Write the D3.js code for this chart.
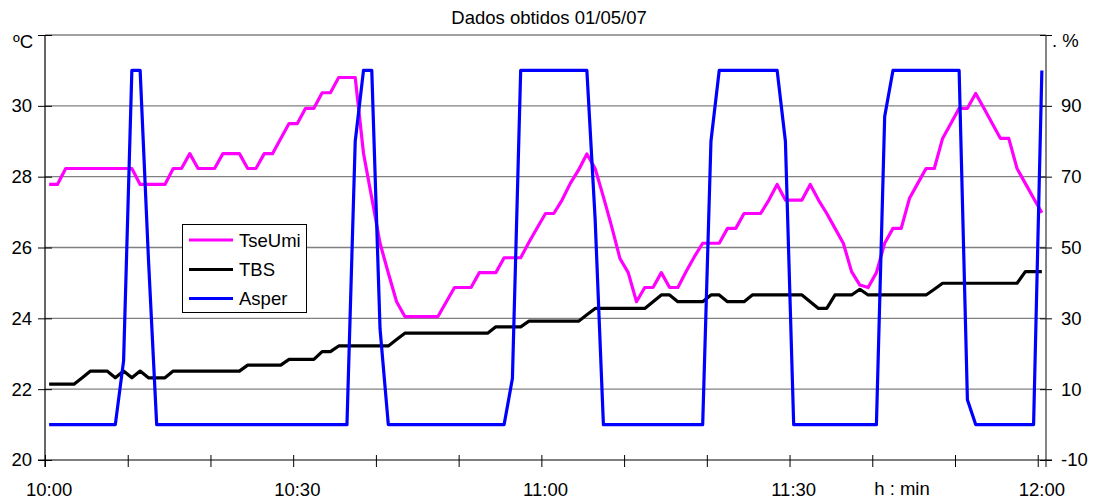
<!DOCTYPE html>
<html>
<head>
<meta charset="utf-8">
<script src="https://cdn.jsdelivr.net/npm/d3@7"></script>
<style>
  html, body { margin: 0; padding: 0; background: #fff; }
  svg { display: block; font-family: "Liberation Sans", Arial, sans-serif; }
</style>
</head>
<body>
<svg id="chart" width="1096" height="499"></svg>
<script>
// ---- data (1-minute samples, 10:00 .. 12:00) ----
const minutes = d3.range(0, 121);
const timeLabels = ["10:00", "10:30", "11:00", "11:30", "12:00"];
const timeLabelIdx = [0, 30, 60, 90, 120];
const leftTicks = [20, 22, 24, 26, 28, 30, 32];
const rightTicks = [-10, 10, 30, 50, 70, 90, 110];

const tseUmi = [
  27.78,27.78,28.23,28.23,28.23,28.23,28.23,28.23,28.23,28.23,
  28.23,27.78,27.78,27.78,27.78,28.23,28.23,28.65,28.23,28.23,
  28.23,28.65,28.65,28.65,28.23,28.23,28.65,28.65,29.08,29.50,
  29.50,29.93,29.93,30.37,30.37,30.80,30.80,30.80,28.66,27.40,
  26.12,25.28,24.47,24.05,24.05,24.05,24.05,24.05,24.46,24.87,
  24.87,24.87,25.29,25.29,25.29,25.71,25.71,25.71,26.15,26.56,
  26.96,26.96,27.34,27.81,28.19,28.64,28.23,27.43,26.59,25.69,
  25.29,24.47,24.87,24.87,25.29,24.87,24.87,25.32,25.74,26.12,
  26.12,26.12,26.54,26.54,26.96,26.96,26.96,27.34,27.78,27.34,
  27.34,27.34,27.78,27.34,26.96,26.54,26.12,25.32,24.94,24.87,
  25.29,26.12,26.54,26.54,27.39,27.81,28.23,28.23,29.08,29.50,
  29.93,29.93,30.35,29.93,29.50,29.08,29.08,28.23,27.81,27.39,
  26.98
];
const tbs = [
  22.14,22.14,22.14,22.14,22.32,22.51,22.51,22.51,22.32,22.51,
  22.32,22.51,22.32,22.32,22.32,22.51,22.51,22.51,22.51,22.51,
  22.51,22.51,22.51,22.51,22.68,22.68,22.68,22.68,22.68,22.84,
  22.84,22.84,22.84,23.06,23.06,23.22,23.22,23.22,23.22,23.22,
  23.22,23.22,23.40,23.58,23.58,23.58,23.58,23.58,23.58,23.58,
  23.58,23.58,23.58,23.58,23.76,23.76,23.76,23.76,23.92,23.92,
  23.92,23.92,23.92,23.92,23.92,24.10,24.28,24.28,24.28,24.28,
  24.28,24.28,24.28,24.47,24.66,24.66,24.47,24.47,24.47,24.47,
  24.66,24.66,24.47,24.47,24.47,24.66,24.66,24.66,24.66,24.66,
  24.66,24.66,24.47,24.28,24.28,24.66,24.66,24.66,24.82,24.66,
  24.66,24.66,24.66,24.66,24.66,24.66,24.66,24.82,24.99,24.99,
  24.99,24.99,24.99,24.99,24.99,24.99,24.99,24.99,25.32,25.32,
  25.32
];
const asper = [
  0,0,0,0,0,0,0,0,0,18,
  100,100,47,0,0,0,0,0,0,0,
  0,0,0,0,0,0,0,0,0,0,
  0,0,0,0,0,0,0,80,100,100,
  27,0,0,0,0,0,0,0,0,0,
  0,0,0,0,0,0,13,100,100,100,
  100,100,100,100,100,100,58,0,0,0,
  0,0,0,0,0,0,0,0,0,0,
  80,100,100,100,100,100,100,100,100,80,
  0,0,0,0,0,0,0,0,0,0,
  0,87,100,100,100,100,100,100,100,100,
  100,7,0,0,0,0,0,0,0,0,
  100
];

const seriesNames = ["TseUmi", "TBS", "Asper"];
const seriesColors = ["#FF00FF", "#000000", "#0000FF"];

// ---- layout ----
const svg = d3.select("#chart");
const L = 45, R = 1046, T = 35, B = 460;
const FONT = "18.5px";

const x = d3.scaleLinear().domain([-0.5, 120.5]).range([L, R]);
const yL = d3.scaleLinear().domain([20, 32]).range([B, T]);
const yR = d3.scaleLinear().domain([-10, 110]).range([B, T]);

svg.append("rect").attr("width", 1096).attr("height", 499).attr("fill", "#fff");

// gridlines
svg.append("g").selectAll("line")
  .data(leftTicks.filter(v => v > 20))
  .join("line")
  .attr("x1", L).attr("x2", R)
  .attr("y1", d => yL(d)).attr("y2", d => yL(d))
  .attr("stroke", "#808080").attr("stroke-width", 1.3);

// left axis
const gl = svg.append("g").attr("transform", `translate(${L},0)`)
  .call(d3.axisLeft(yL).tickValues(leftTicks).tickSize(7).tickSizeOuter(0).tickPadding(6)
        .tickFormat(d => d === 32 ? "" : d));
gl.select(".domain").remove();
gl.selectAll(".tick line").attr("x1", 7).attr("stroke", "#000");
gl.selectAll(".tick text").style("font-size", FONT).style("font-family", "Liberation Sans, Arial, sans-serif").attr("fill", "#000");
svg.append("line").attr("x1", L).attr("x2", L).attr("y1", T).attr("y2", B + 7).attr("stroke", "#000").attr("stroke-width", 1.2);

// right axis
const gr = svg.append("g").attr("transform", `translate(${R},0)`)
  .call(d3.axisRight(yR).tickValues(rightTicks).tickSize(6).tickSizeOuter(0).tickPadding(9)
        .tickFormat(d => d === 110 ? "" : d));
gr.select(".domain").remove();
gr.selectAll(".tick line").attr("x1", -6).attr("stroke", "#000");
gr.selectAll(".tick text").style("font-size", FONT).style("font-family", "Liberation Sans, Arial, sans-serif").attr("fill", "#000");
svg.append("line").attr("x1", R).attr("x2", R).attr("y1", T).attr("y2", B + 7).attr("stroke", "#333").attr("stroke-width", 1.2);

// bottom axis
const tickIdx = d3.range(0, 121, 10).map(i => i - 0.5);
const gb = svg.append("g").attr("transform", `translate(0,${B})`)
  .call(d3.axisBottom(x).tickValues(tickIdx).tickSize(7).tickSizeOuter(0).tickFormat(""));
gb.select(".domain").remove();
gb.selectAll(".tick line").attr("y1", -5).attr("stroke", "#000");
svg.append("line").attr("x1", L - 7).attr("x2", R + 6).attr("y1", B).attr("y2", B).attr("stroke", "#000").attr("stroke-width", 1.2);

svg.append("g").selectAll("text")
  .data(timeLabelIdx)
  .join("text")
  .attr("x", d => x(d)).attr("y", 496)
  .attr("text-anchor", "middle")
  .style("font-size", FONT)
  .text((d, i) => timeLabels[i]);

svg.append("text").attr("x", 902).attr("y", 495).attr("text-anchor", "middle")
  .style("font-size", FONT).text("h : min");

// title and unit labels
svg.append("text").attr("x", 549).attr("y", 24).attr("text-anchor", "middle")
  .style("font-size", FONT).text("Dados obtidos 01/05/07");
svg.append("text").attr("x", 33).attr("y", 48).attr("text-anchor", "end")
  .style("font-size", FONT).text("ºC");
svg.append("text").attr("x", 1052).attr("y", 46.5)
  .style("font-size", FONT).text(". %");

// series
const lineL = d3.line().x((d, i) => x(minutes[i])).y(d => yL(d));
const lineR = d3.line().x((d, i) => x(minutes[i])).y(d => yR(d));

const series = [
  { data: tseUmi, gen: lineL, color: seriesColors[0] },
  { data: tbs, gen: lineL, color: seriesColors[1] },
  { data: asper, gen: lineR, color: seriesColors[2] }
];
svg.append("g").selectAll("path")
  .data(series)
  .join("path")
  .attr("d", s => s.gen(s.data))
  .attr("fill", "none")
  .attr("stroke", s => s.color)
  .attr("stroke-width", 3.2)
  .attr("stroke-linejoin", "round");

// legend
const lg = svg.append("g");
lg.append("rect").attr("x", 182.5).attr("y", 224.5).attr("width", 124).attr("height", 88)
  .attr("fill", "#fff").attr("stroke", "#000").attr("stroke-width", 1);
const legY = [240, 269.5, 298.5];
seriesNames.forEach((n, i) => {
  lg.append("line").attr("x1", 189).attr("x2", 233).attr("y1", legY[i]).attr("y2", legY[i])
    .attr("stroke", seriesColors[i]).attr("stroke-width", 3.2);
  lg.append("text").attr("x", 239).attr("y", legY[i] + 6.5)
    .style("font-size", FONT).text(n);
});
</script>
</body>
</html>
